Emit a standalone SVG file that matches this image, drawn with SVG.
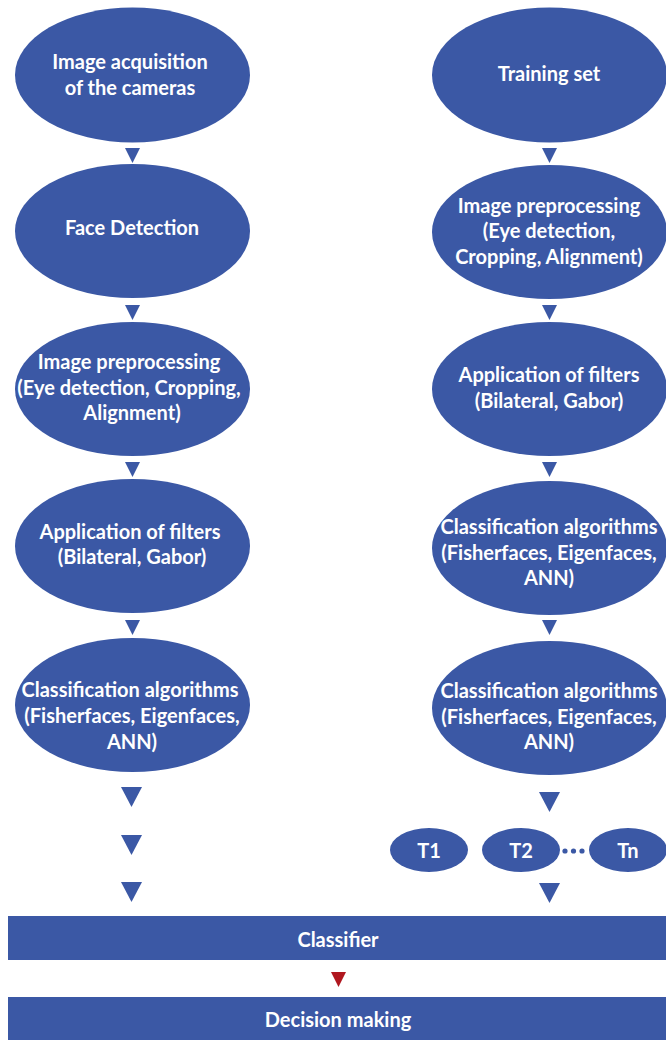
<svg xmlns="http://www.w3.org/2000/svg" width="666" height="1042" viewBox="0 0 666 1042">
<style>
.n{fill:#3B58A5}
.t{fill:#fff;font-family:Lato,"Open Sans","Liberation Sans",sans-serif;font-weight:bold;font-size:20px;text-anchor:middle}
.a{fill:#3B58A5}
.r{fill:#B0171F}
</style>
<rect width="666" height="1042" fill="#fff"/>
<g id="connectors">
<polygon class="a" points="125,148 140,148 132.5,163"/>
<polygon class="a" points="125,305 140,305 132.5,320"/>
<polygon class="a" points="125,462 140,462 132.5,477"/>
<polygon class="a" points="125,620 140,620 132.5,635"/>
<polygon class="a" points="121,787 142,787 131.5,807"/>
<polygon class="a" points="121,835 142,835 131.5,855"/>
<polygon class="a" points="121,882 142,882 131.5,902"/>
<polygon class="a" points="542,148 557,148 549.5,163"/>
<polygon class="a" points="542,305 557,305 549.5,320"/>
<polygon class="a" points="542,462 557,462 549.5,477"/>
<polygon class="a" points="542,620 557,620 549.5,635"/>
<polygon class="a" points="539,792 560,792 549.5,812"/>
<polygon class="a" points="539,883 560,883 549.5,903"/>
<polygon class="r" points="331,972 346,972 338.5,987"/>
<circle class="a" cx="565" cy="851" r="2.6"/>
<circle class="a" cx="573.5" cy="851" r="2.6"/>
<circle class="a" cx="582" cy="851" r="2.6"/>
</g>
<g id="l1"><ellipse class="n" cx="132.5" cy="75" rx="117.5" ry="67.5"/><text class="t" x="130" y="69">Image acquisition</text><text class="t" x="130" y="95">of the cameras</text></g>
<g id="l2"><ellipse class="n" cx="132.5" cy="231" rx="117.5" ry="67"/><text class="t" x="132" y="235">Face Detection</text></g>
<g id="l3"><ellipse class="n" cx="132.5" cy="389" rx="117.5" ry="67"/><text class="t" x="129" y="369">Image preprocessing</text><text class="t" x="129" y="395">(Eye detection, Cropping,</text><text class="t" x="132" y="420">Alignment)</text></g>
<g id="l4"><ellipse class="n" cx="132.5" cy="546" rx="117.5" ry="67"/><text class="t" x="130" y="539">Application of filters</text><text class="t" x="132" y="564">(Bilateral, Gabor)</text></g>
<g id="l5"><ellipse class="n" cx="132.5" cy="705" rx="117.5" ry="67"/><text class="t" x="130" y="697">Classification algorithms</text><text class="t" x="132" y="723">(Fisherfaces, Eigenfaces,</text><text class="t" x="132" y="749">ANN)</text></g>
<g id="r1"><ellipse class="n" cx="549.5" cy="75" rx="117.5" ry="67.5"/><text class="t" x="549" y="81">Training set</text></g>
<g id="r2"><ellipse class="n" cx="549.5" cy="232" rx="117.5" ry="67"/><text class="t" x="549" y="213">Image preprocessing</text><text class="t" x="549" y="238">(Eye detection,</text><text class="t" x="549" y="264">Cropping, Alignment)</text></g>
<g id="r3"><ellipse class="n" cx="549.5" cy="389" rx="117.5" ry="67"/><text class="t" x="549" y="382">Application of filters</text><text class="t" x="549" y="408">(Bilateral, Gabor)</text></g>
<g id="r4"><ellipse class="n" cx="549.5" cy="548" rx="117.5" ry="67"/><text class="t" x="549" y="534">Classification algorithms</text><text class="t" x="549" y="560">(Fisherfaces, Eigenfaces,</text><text class="t" x="549" y="585">ANN)</text></g>
<g id="r5"><ellipse class="n" cx="549.5" cy="708" rx="117.5" ry="67"/><text class="t" x="549" y="698">Classification algorithms</text><text class="t" x="549" y="724">(Fisherfaces, Eigenfaces,</text><text class="t" x="549" y="749">ANN)</text></g>
<g id="t1"><ellipse class="n" cx="429" cy="850" rx="39" ry="22"/><text class="t" x="429" y="858">T1</text></g>
<g id="t2"><ellipse class="n" cx="521" cy="850" rx="39" ry="22"/><text class="t" x="521" y="858">T2</text></g>
<g id="tn"><ellipse class="n" cx="628" cy="850" rx="39" ry="22"/><text class="t" x="628" y="858">Tn</text></g>
<g id="classifier"><rect class="n" x="8" y="916" width="658" height="44"/><text class="t" x="338" y="947">Classifier</text></g>
<g id="decision"><rect class="n" x="8" y="997" width="658" height="43"/><text class="t" x="338" y="1027">Decision making</text></g>
</svg>
